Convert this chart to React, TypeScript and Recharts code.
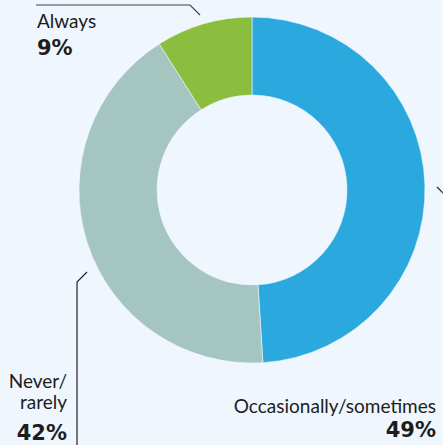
import { PieChart, Pie, Cell } from 'recharts';

// Share of respondents per answer, clockwise from 12 o'clock
const categories = ['Occasionally/sometimes', 'Never/rarely', 'Always'];
const shares = [49, 42, 9];
const colors = ['#2BA8DE', '#A5C5C1', '#8BBD3F'];

const data = categories.map((name, i) => ({ name, value: shares[i] }));

const FONT = 'Lato, "Open Sans", sans-serif';
const PCT_FONT = '"DejaVu Sans", Verdana, sans-serif';
const INK = '#1d1d1b';

// label text lines + leader lines, placed relative to the pie centre
const renderLabel = (props: any) => {
  const { cx, cy, index, outerRadius } = props;
  const r = outerRadius;
  if (index === 2) {
    // Always (top-left)
    return (
      <g key="lbl-2">
        <polyline
          points={`${cx - 216},${cy - r - 12} ${cx - 62},${cy - r - 12} ${cx - 52},${cy - r - 2}`}
          fill="none"
          stroke="#444"
          strokeWidth={1.2}
        />
        <text x={cx - 215} y={cy - 162} fontSize={19} fill={INK} fontFamily={FONT}>
          Always
        </text>
        <text x={cx - 215} y={cy - 135} fontSize={21} fontWeight={700} fill={INK} fontFamily={PCT_FONT}>
          9%
        </text>
      </g>
    );
  }
  if (index === 1) {
    // Never/rarely (bottom-left)
    return (
      <g key="lbl-1">
        <polyline
          points={`${cx - 165},${cy + 82} ${cx - 175},${cy + 92} ${cx - 175},${cy + 260}`}
          fill="none"
          stroke="#222"
          strokeWidth={1.2}
        />
        <text x={cx - 185} y={cy + 198} textAnchor="end" fontSize={19} fill={INK} fontFamily={FONT}>
          Never/
        </text>
        <text x={cx - 185} y={cy + 219} textAnchor="end" fontSize={19} fill={INK} fontFamily={FONT}>
          rarely
        </text>
        <text x={cx - 185} y={cy + 250} textAnchor="end" fontSize={21} fontWeight={700} fill={INK} fontFamily={PCT_FONT}>
          42%
        </text>
      </g>
    );
  }
  // Occasionally/sometimes (bottom-right)
  return (
    <g key="lbl-0">
      <polyline
        points={`${cx + 185},${cy - 3} ${cx + 193},${cy + 5}`}
        fill="none"
        stroke="#222"
        strokeWidth={1.2}
      />
      <text x={cx + 184} y={cy + 223} textAnchor="end" fontSize={19} fill={INK} fontFamily={FONT}>
        Occasionally/sometimes
      </text>
      <text x={cx + 184} y={cy + 247} textAnchor="end" fontSize={21} fontWeight={700} fill={INK} fontFamily={PCT_FONT}>
        49%
      </text>
    </g>
  );
};

export default function App() {
  return (
    <div
      style={{
        position: 'fixed',
        top: 0,
        left: 0,
        width: 443,
        height: 445,
        background: '#EFF6FD',
        overflow: 'hidden',
      }}
    >
      <PieChart width={443} height={445} margin={{ top: 0, right: 0, bottom: 0, left: 0 }}>
        <Pie
          data={data}
          dataKey="value"
          nameKey="name"
          cx={252}
          cy={190}
          innerRadius={95}
          outerRadius={173}
          startAngle={90}
          endAngle={-270}
          stroke="#EFF6FD"
          strokeWidth={0.6}
          label={renderLabel}
          labelLine={false}
          isAnimationActive={false}
        >
          {data.map((d, i) => (
            <Cell key={d.name} fill={colors[i]} />
          ))}
        </Pie>
      </PieChart>
    </div>
  );
}
